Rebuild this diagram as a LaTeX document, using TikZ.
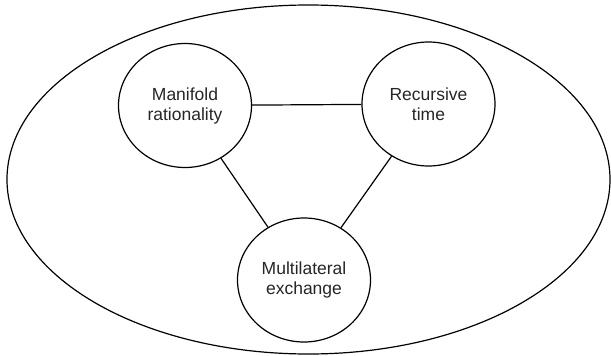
\documentclass[tikz,border=0pt]{standalone}
\usepackage{fontspec}
\setmainfont{Liberation Sans}
\usetikzlibrary{shapes.geometric}

\begin{document}
\begin{tikzpicture}[
    x=1pt, y=-1pt,
    idea/.style={ellipse, minimum width=133pt, minimum height=124pt, inner sep=0pt, align=center, draw=black, line width=1.2pt, text=black!85, font=\fontsize{17.5}{20}\selectfont},
    frame/.style={ellipse, minimum width=603pt, minimum height=349pt, inner sep=0pt, draw=black, line width=1.2pt},
    link/.style={line width=1.2pt}
]
\useasboundingbox (0,0) rectangle (611,356);

% Outer boundary
\node[frame] (whole) at (308.5,179.5) {};

% Three ideas
\node[idea] (manifold) at (185,105.5) {Manifold\\rationality};
\node[idea] (recursive) at (428.5,104) {Recursive\\time};
\node[idea] (multi) at (304,280) {Multilateral\\exchange};

% Links between ideas
\draw[link] (manifold) -- (recursive);
\draw[link] (manifold) -- (multi);
\draw[link] (recursive) -- (multi);

\end{tikzpicture}
\end{document}
